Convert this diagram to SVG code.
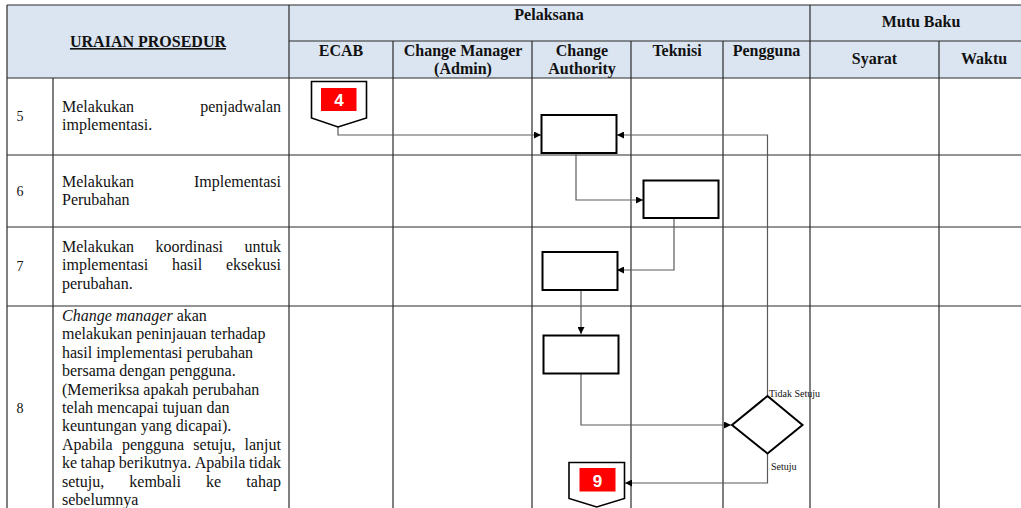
<svg xmlns="http://www.w3.org/2000/svg" width="1021" height="508" viewBox="0 0 1021 508">
  <style>
    .grid { stroke: #2b2b2b; stroke-width: 1.2; fill: none; }
    .hd { font-family: 'Liberation Serif', 'Times New Roman', serif; font-size: 16px; font-weight: bold; fill: #111; text-anchor: middle; }
    .tx { font-family: 'Liberation Serif', 'Times New Roman', serif; font-size: 16px; fill: #111; }
    .end { text-anchor: end; }
    .num { font-family: 'Liberation Serif', 'Times New Roman', serif; font-size: 14px; fill: #111; }
    .box { fill: #fff; stroke: #000; stroke-width: 2; }
    .conn { fill: none; stroke: #5a5a5a; stroke-width: 1.2; }
    .lbl { font-family: 'Liberation Serif', 'Times New Roman', serif; font-size: 10px; fill: #111; }
    .pg { fill: #fff; stroke: #000; stroke-width: 1.6; }
    .pgfill { fill: #ff0000; }
    .pgnum { font-family: 'Liberation Sans', Arial, sans-serif; font-size: 17px; font-weight: bold; fill: #fff; text-anchor: middle; }
  </style>
  <defs>
    <marker id="arrow" viewBox="0 0 10 10" refX="10" refY="5" markerUnits="userSpaceOnUse" markerWidth="8" markerHeight="7" orient="auto">
      <path d="M0,0 L10,5 L0,10 z" fill="#000"/>
    </marker>
  </defs>

  <rect width="1021" height="508" fill="#fff"/>

  <!-- table -->
  <g id="table">
    <rect x="7" y="5" width="1014" height="73" fill="#dbe5f1"/>
    <!-- horizontal rules -->
    <line class="grid" x1="7" y1="5" x2="1021" y2="5"/>
    <line class="grid" x1="289" y1="41" x2="1021" y2="41"/>
    <line class="grid" x1="7" y1="78" x2="1021" y2="78"/>
    <line class="grid" x1="7" y1="155" x2="1021" y2="155"/>
    <line class="grid" x1="7" y1="227" x2="1021" y2="227"/>
    <line class="grid" x1="7" y1="306" x2="1021" y2="306"/>
    <!-- vertical rules -->
    <line class="grid" x1="7" y1="5" x2="7" y2="508"/>
    <line class="grid" x1="53" y1="78" x2="53" y2="508"/>
    <line class="grid" x1="289" y1="5" x2="289" y2="508"/>
    <line class="grid" x1="393" y1="41" x2="393" y2="508"/>
    <line class="grid" x1="532" y1="41" x2="532" y2="508"/>
    <line class="grid" x1="631" y1="41" x2="631" y2="508"/>
    <line class="grid" x1="723" y1="41" x2="723" y2="508"/>
    <line class="grid" x1="810" y1="5" x2="810" y2="508"/>
    <line class="grid" x1="939" y1="41" x2="939" y2="508"/>

    <!-- header labels -->
    <text class="hd" x="148" y="47" text-decoration="underline">URAIAN PROSEDUR</text>
    <text class="hd" x="549" y="20">Pelaksana</text>
    <text class="hd" x="921" y="27">Mutu Baku</text>
    <text class="hd" x="341" y="55.5">ECAB</text>
    <text class="hd" x="463" y="55.5">Change Manager</text>
    <text class="hd" x="463" y="74">(Admin)</text>
    <text class="hd" x="582" y="55.5">Change</text>
    <text class="hd" x="582" y="74">Authority</text>
    <text class="hd" x="677" y="55.5">Teknisi</text>
    <text class="hd" x="766.5" y="55.5">Pengguna</text>
    <text class="hd" x="874.5" y="64">Syarat</text>
    <text class="hd" x="984" y="64">Waktu</text>

    <!-- step numbers -->
    <text class="num" x="16.5" y="121">5</text>
    <text class="num" x="16.5" y="195.5">6</text>
    <text class="num" x="16.5" y="271">7</text>
    <text class="num" x="16.5" y="413">8</text>

    <!-- step 5 -->
    <text class="tx" x="62" y="112">Melakukan</text>
    <text class="tx end" x="281" y="112">penjadwalan</text>
    <text class="tx" x="62" y="130.4">implementasi.</text>

    <!-- step 6 -->
    <text class="tx" x="62" y="186.5">Melakukan</text>
    <text class="tx end" x="281" y="186.5">Implementasi</text>
    <text class="tx" x="62" y="205">Perubahan</text>

    <!-- step 7 -->
    <text class="tx" x="62" y="252">Melakukan</text>
    <text class="tx" x="155.5" y="252">koordinasi</text>
    <text class="tx end" x="281" y="252">untuk</text>
    <text class="tx" x="62" y="270.4">implementasi</text>
    <text class="tx" x="172" y="270.4">hasil</text>
    <text class="tx end" x="281" y="270.4">eksekusi</text>
    <text class="tx" x="62" y="288.8">perubahan.</text>

    <!-- step 8 -->
    <text class="tx" x="62" y="321"><tspan font-style="italic">Change manager</tspan> akan</text>
    <text class="tx" x="62" y="339.4">melakukan peninjauan terhadap</text>
    <text class="tx" x="62" y="357.8">hasil implementasi perubahan</text>
    <text class="tx" x="62" y="376.2">bersama dengan pengguna.</text>
    <text class="tx" x="62" y="394.6">(Memeriksa apakah perubahan</text>
    <text class="tx" x="62" y="413">telah mencapai tujuan dan</text>
    <text class="tx" x="62" y="431.4">keuntungan yang dicapai).</text>
    <text class="tx" x="62" y="449.8">Apabila</text>
    <text class="tx" x="121.9" y="449.8">pengguna</text>
    <text class="tx" x="193.3" y="449.8">setuju,</text>
    <text class="tx end" x="281" y="449.8">lanjut</text>
    <text class="tx" x="62" y="468.2">ke</text>
    <text class="tx" x="80.6" y="468.2">tahap</text>
    <text class="tx" x="118.8" y="468.2">berikutnya.</text>
    <text class="tx" x="194.7" y="468.2">Apabila</text>
    <text class="tx end" x="281" y="468.2">tidak</text>
    <text class="tx" x="62" y="486.6">setuju,</text>
    <text class="tx" x="129.3" y="486.6">kembali</text>
    <text class="tx" x="206" y="486.6">ke</text>
    <text class="tx end" x="281" y="486.6">tahap</text>
    <text class="tx" x="62" y="505">sebelumnya</text>
  </g>

  <!-- connectors -->
  <g id="connectors">
    <polyline class="conn" points="338,127 338,135 541,135" marker-end="url(#arrow)"/>
    <polyline class="conn" points="576,153 576,200 643,200" marker-end="url(#arrow)"/>
    <polyline class="conn" points="674,218 674,270 617,270" marker-end="url(#arrow)"/>
    <polyline class="conn" points="581,290 581,334" marker-end="url(#arrow)"/>
    <polyline class="conn" points="581,373 581,425 731,425" marker-end="url(#arrow)"/>
    <polyline class="conn" points="767.5,396 767.5,135 617,135" marker-end="url(#arrow)"/>
    <polyline class="conn" points="767.5,453 767.5,483 625,483" marker-end="url(#arrow)"/>
    <text class="lbl" x="769" y="397">Tidak Setuju</text>
    <text class="lbl" x="771" y="470">Setuju</text>
  </g>

  <!-- off-page connector from step 4 -->
  <g id="page-4">
    <polygon class="pg" points="311.5,81.5 366.5,81.5 366.5,118 338,127 311.5,118"/>
    <rect class="pgfill" x="321" y="88" width="35.5" height="23"/>
    <text class="pgnum" x="339" y="106">4</text>
  </g>

  <!-- step 5: change authority -->
  <g id="schedule">
    <rect class="box" x="541.5" y="115" width="75" height="38"/>
  </g>

  <!-- step 6: technician -->
  <g id="implement">
    <rect class="box" x="643.5" y="180.5" width="75" height="37.5"/>
  </g>

  <!-- step 7: change authority -->
  <g id="coordinate">
    <rect class="box" x="542.5" y="252" width="75" height="38"/>
  </g>

  <!-- step 8: change authority -->
  <g id="review">
    <rect class="box" x="543.5" y="335.5" width="75" height="38"/>
  </g>

  <!-- user decision -->
  <g id="decision">
    <polygon class="box" points="767.5,396 802.5,425 767.5,453.5 732,425"/>
  </g>

  <!-- off-page connector to step 9 -->
  <g id="page-9">
    <polygon class="pg" points="569,462.5 624.5,462.5 624.5,498.5 596.7,507 569,498.5"/>
    <rect class="pgfill" x="579.5" y="468" width="36" height="23.5"/>
    <text class="pgnum" x="597.5" y="487">9</text>
  </g>
</svg>
